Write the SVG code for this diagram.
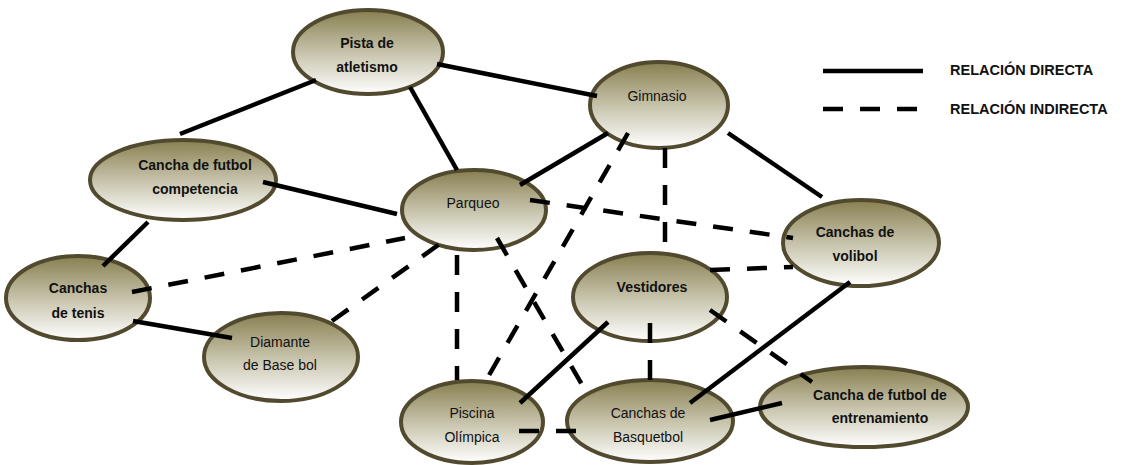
<svg xmlns="http://www.w3.org/2000/svg" width="1134" height="465" viewBox="0 0 1134 465">
<defs>
<linearGradient id="g" x1="0" y1="0" x2="0" y2="1">
<stop offset="0" stop-color="#877f50"/>
<stop offset="0.5" stop-color="#c6c2aa"/>
<stop offset="1" stop-color="#ffffff"/>
</linearGradient>
</defs>
<style>
.n{fill:url(#g);stroke:#514a2e;stroke-width:4}
.t{font-family:"Liberation Sans",Arial,sans-serif;font-size:14px;fill:#111;text-anchor:middle}
.b{font-weight:bold}
.s{stroke:#000;stroke-width:4.5;fill:none}
.d{stroke:#000;stroke-width:4.5;fill:none;stroke-dasharray:20 17}
.l{font-family:"Liberation Sans",Arial,sans-serif;font-size:14.5px;font-weight:bold;fill:#111}
</style>
<rect width="1134" height="465" fill="#fff"/>
<g id="pista"><ellipse class="n" cx="368" cy="52" rx="75" ry="42"/><text class="t b" x="367" y="48">Pista de</text><text class="t b" x="367" y="72">atletismo</text></g>
<g id="gimnasio"><ellipse class="n" cx="659" cy="105" rx="69" ry="43"/><text class="t" x="657" y="101">Gimnasio</text></g>
<g id="cancha-competencia"><ellipse class="n" cx="183" cy="180" rx="93" ry="40"/><text class="t b" x="195" y="170">Cancha de futbol</text><text class="t b" x="195" y="194">competencia</text></g>
<g id="parqueo"><ellipse class="n" cx="474" cy="210" rx="72" ry="40"/><text class="t" x="473" y="208">Parqueo</text></g>
<g id="volibol"><ellipse class="n" cx="861" cy="243" rx="78" ry="43"/><text class="t b" x="855" y="237">Canchas de</text><text class="t b" x="855" y="261">volibol</text></g>
<g id="tenis"><ellipse class="n" cx="78" cy="298" rx="72" ry="42"/><text class="t b" x="78" y="293">Canchas</text><text class="t b" x="78" y="318">de tenis</text></g>
<g id="vestidores"><ellipse class="n" cx="650" cy="297" rx="77" ry="44"/><text class="t b" x="652" y="292">Vestidores</text></g>
<g id="diamante"><ellipse class="n" cx="281" cy="357" rx="77" ry="44"/><text class="t" x="280" y="347">Diamante</text><text class="t" x="280" y="370">de Base bol</text></g>
<g id="piscina"><ellipse class="n" cx="472" cy="422" rx="71" ry="41"/><text class="t" x="472" y="418">Piscina</text><text class="t" x="472" y="442">Olímpica</text></g>
<g id="basquetbol"><ellipse class="n" cx="650" cy="421" rx="83" ry="41"/><text class="t" x="648" y="418">Canchas de</text><text class="t" x="648" y="442">Basquetbol</text></g>
<g id="entrenamiento"><ellipse class="n" cx="864" cy="407" rx="104" ry="40"/><text class="t b" x="880" y="400">Cancha de futbol de</text><text class="t b" x="880" y="423">entrenamiento</text></g>
<g id="connectors">
<line class="s" x1="437" y1="64" x2="597" y2="96"/>
<line class="s" x1="316" y1="80" x2="180" y2="134"/>
<line class="s" x1="410" y1="87" x2="457" y2="170"/>
<line class="s" x1="608" y1="133" x2="520" y2="185"/>
<line class="s" x1="728" y1="133" x2="822" y2="197"/>
<line class="s" x1="263" y1="182" x2="397" y2="214"/>
<line class="s" x1="148" y1="222" x2="103" y2="266"/>
<line class="s" x1="133" y1="321" x2="232" y2="338"/>
<line class="s" x1="608" y1="322" x2="520" y2="403"/>
<line class="s" x1="850" y1="282" x2="690" y2="403"/>
<line class="s" x1="710" y1="420" x2="782" y2="403"/>
<line class="d" x1="132" y1="292" x2="405" y2="238"/>
<line class="d" x1="332" y1="321" x2="448" y2="238"/>
<line class="d" x1="530" y1="200" x2="793" y2="238"/>
<line class="d" x1="457" y1="255" x2="457" y2="380"/>
<line class="d" x1="497" y1="238" x2="584" y2="388"/>
<line class="d" x1="628" y1="133" x2="488" y2="377"/>
<line class="d" x1="665" y1="148" x2="665" y2="243"/>
<line class="d" x1="710" y1="270" x2="793" y2="267"/>
<line class="d" x1="650" y1="323" x2="650" y2="380"/>
<line class="d" x1="710" y1="310" x2="812" y2="382"/>
<line class="d" x1="519" y1="431" x2="577" y2="431" stroke-dasharray="19 19"/>
</g>
<g id="legend">
<line class="s" x1="823" y1="71" x2="923" y2="71" stroke-width="5"/>
<line class="d" x1="823" y1="109" x2="918" y2="109" stroke-width="5" stroke-dasharray="21 16"/>
<text class="l" x="950" y="75">RELACIÓN DIRECTA</text>
<text class="l" x="950" y="114">RELACIÓN INDIRECTA</text>
</g>
</svg>
